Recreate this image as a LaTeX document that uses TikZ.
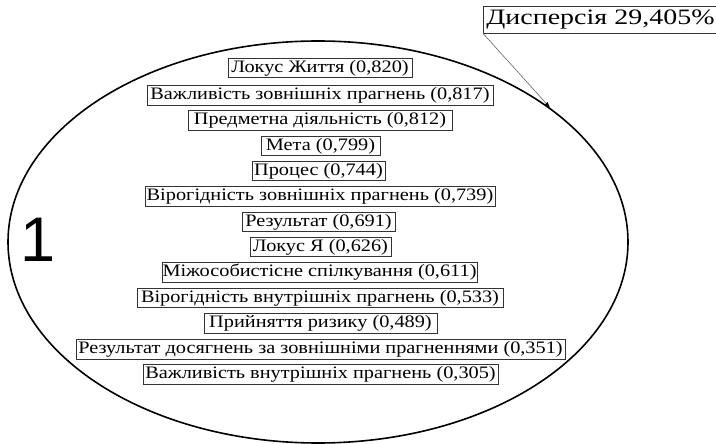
\documentclass[tikz,border=0pt]{standalone}
\usepackage{fontspec}
\setmainfont{Liberation Serif}
\newfontfamily\wideserif[FakeStretch=1.16]{Liberation Serif}
\newfontfamily\widerserif[FakeStretch=1.27]{Liberation Serif}
\newfontfamily\digitfont{Liberation Sans}
\usetikzlibrary{shapes.geometric,arrows.meta}
\tikzset{
  factor/.style={draw=black!80, line width=0.8pt, inner sep=0pt, minimum height=19.5pt,
    font=\wideserif\fontsize{17.5}{17.5}\selectfont, anchor=center},
  oval/.style={draw=black, ellipse, line width=1.6pt, inner sep=0pt},
  disp/.style={draw=black!80, line width=0.8pt, anchor=west, inner xsep=3pt, inner ysep=0pt,
    minimum height=27pt, text width=230pt, align=left, font=\widerserif\fontsize{22}{22}\selectfont},
  pointer/.style={draw=black!60, line width=0.6pt, -{Latex[length=6pt,width=4pt,black]}},
}
\begin{document}
\begin{tikzpicture}[x=1pt,y=-1pt]
\useasboundingbox (0,0) rectangle (716,444);
\node[oval, minimum width=620pt, minimum height=402pt] (e) at (318,242) {};
\node[font=\digitfont\fontsize{63}{63}\selectfont, inner sep=0pt] (one) at (38.5,240) {1};
\node[factor, minimum width=184pt] (f1) at (320,68) {Локус Життя (0,820)};
\node[factor, minimum width=346pt] (f2) at (320,95.5) {Важливість зовнішніх прагнень (0,817)};
\node[factor, minimum width=264pt] (f3) at (320,120.5) {Предметна діяльність (0,812)};
\node[factor, minimum width=119pt] (f4) at (320.5,146) {Мета (0,799)};
\node[factor, minimum width=133pt] (f5) at (318.5,171) {Процес (0,744)};
\node[factor, minimum width=350pt] (f6) at (320,196.5) {Вірогідність зовнішніх прагнень (0,739)};
\node[factor, minimum width=153pt] (f7) at (318.5,222) {Результат (0,691)};
\node[factor, minimum width=141pt] (f8) at (320.5,247) {Локус Я (0,626)};
\node[factor, minimum width=315pt] (f9) at (319.5,272.5) {Міжособистісне спілкування (0,611)};
\node[factor, minimum width=366pt] (f10) at (320,298) {Вірогідність внутрішніх прагнень (0,533)};
\node[factor, minimum width=233pt] (f11) at (320.5,323.5) {Прийняття ризику (0,489)};
\node[factor, minimum width=489pt] (f12) at (320.5,349.5) {Результат досягнень за зовнішніми прагненнями (0,351)};
\node[factor, minimum width=355pt] (f13) at (320.5,374.5) {Важливість внутрішніх прагнень (0,305)};
\node[disp] (d) at (483,19.5) {Дисперсія 29,405\%};
\draw[pointer] (d.south west) -- (e.30.4);
\end{tikzpicture}
\end{document}
